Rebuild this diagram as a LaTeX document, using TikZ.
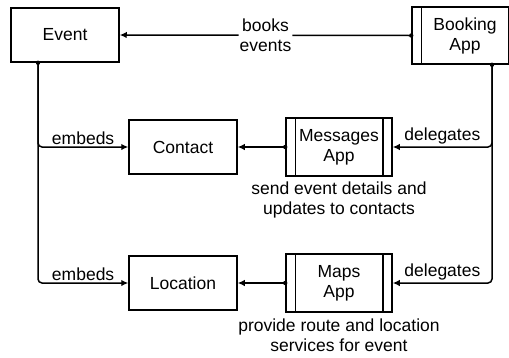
\documentclass[tikz,border=0pt]{standalone}
\usepackage{fontspec}
\setmainfont{Liberation Sans}
\usetikzlibrary{arrows.meta}
\begin{document}
\begin{tikzpicture}[x=1pt,y=-1pt,
  every node/.style={font=\fontsize{17.5}{20}\selectfont},
  entity/.style={draw,line width=1.5pt,minimum width=108pt,minimum height=54pt,inner sep=0pt,align=center},
  process/.style={draw,line width=1.5pt,minimum width=106pt,minimum height=58pt,inner sep=0pt,align=center},
  conn/.style={line width=1.5pt,rounded corners=4pt,-{Latex[length=7pt,width=6.5pt]}},
  lbl/.style={fill=white,inner sep=1pt,align=center},
  toplbl/.style={above,inner sep=2pt},
  enddot/.style={fill,radius=2.2pt}]
\useasboundingbox (0,0) rectangle (509,357);
\fill[white] (0,0) rectangle (509,357);

% entities
\node[entity] (ev) at (65,35) {Event};
\node[entity] (ct) at (183,147) {Contact};
\node[entity] (lc) at (183,283) {Location};

% application processes (double side bars)
\node[process,minimum height=57pt] (bk) at (465,35.5) {Booking\\App};
\node[process] (ms) at (339,147) {Messages\\App};
\node[process] (mp) at (339,283) {Maps\\App};
\foreach \p in {bk,ms,mp}{
  \draw[line width=1.5pt] ([xshift=10pt]\p.north west) -- ([xshift=10pt]\p.south west);
  \draw[line width=1.5pt] ([xshift=-10pt]\p.north east) -- ([xshift=-10pt]\p.south east);
}

% connector start points
\coordinate (evout) at ([xshift=-27pt]ev.south);
\coordinate (bkout) at ([xshift=27pt]bk.south);
\coordinate (bkw) at (bk.west);
\coordinate (msw) at (ms.west);
\coordinate (mpw) at (mp.west);

% connectors
\draw[conn] (bkw) -- node[lbl] {books\\events} (ev.east);
\draw[conn] (evout) |- node[toplbl,pos=0.75] {embeds} (ct.west);
\draw[conn] (evout) |- node[toplbl,pos=0.75] {embeds} (lc.west);
\draw[conn] (bkout) |- node[toplbl,pos=0.75] {delegates} (ms.east);
\draw[conn] (bkout) |- node[toplbl,pos=0.75] {delegates} (mp.east);
\draw[conn] (msw) -- (ct.east);
\draw[conn] (mpw) -- (lc.east);
\foreach \c in {evout,bkout,bkw,msw,mpw} \fill (\c) circle[radius=2.2pt];

% descriptions
\node[align=center] (msd) at (339,200) {send event details and\\updates to contacts};
\node[align=center] (mpd) at (339,335) {provide route and location\\services for event};
\end{tikzpicture}
\end{document}
